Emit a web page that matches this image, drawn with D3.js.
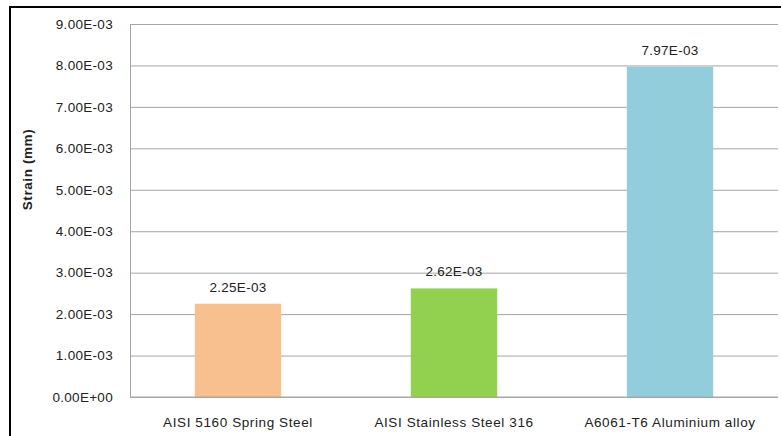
<!DOCTYPE html>
<html>
<head>
<meta charset="utf-8">
<script src="https://cdn.jsdelivr.net/npm/d3@7"></script>
<style>
  html, body { margin: 0; padding: 0; background: #fff; }
  svg { display: block; }
  text { font-family: "Liberation Sans", "DejaVu Sans", sans-serif; fill: #222; }
</style>
</head>
<body>
<svg id="chart" width="781" height="436"></svg>
<script>
// Strain per material
const materials = ["AISI 5160 Spring Steel", "AISI Stainless Steel 316", "A6061-T6 Aluminium alloy"];
const strain = [0.00225, 0.00262, 0.00797];
const barColors = ["#F9C08F", "#92D050", "#92CDDC"];
const yTicks = [0, 0.001, 0.002, 0.003, 0.004, 0.005, 0.006, 0.007, 0.008, 0.009];

const svg = d3.select("#chart");
const W = 781, H = 436;
const plot = { left: 130, right: 778, top: 24, bottom: 397 };

// Outer chart frame (extends past the window on right and bottom)
svg.append("rect")
  .attr("x", 10).attr("y", 7)
  .attr("width", W + 10).attr("height", H + 10)
  .attr("fill", "#fff").attr("stroke", "#000").attr("stroke-width", 2);

const y = d3.scaleLinear().domain([0, 0.009]).range([plot.bottom, plot.top]);
const x = d3.scaleBand().domain(materials).range([plot.left, plot.right])
  .paddingInner(0.6).paddingOuter(0.3);

// Gridlines and axis labels
const fmt = v => v === 0 ? "0.00E+00" : (v / 0.001).toFixed(2) + "E-03";
const yAxis = d3.axisLeft(y).tickValues(yTicks).tickFormat(fmt)
  .tickSize(-(plot.right - plot.left)).tickPadding(17);
const gy = svg.append("g").attr("transform", `translate(${plot.left},0)`).call(yAxis);
gy.select(".domain").attr("stroke", "#a6a6a6");
gy.selectAll(".tick line").attr("stroke", "#a6a6a6");
gy.selectAll(".tick text")
  .attr("font-size", 13.5)
  .attr("font-family", "'Liberation Sans', sans-serif")
  .attr("letter-spacing", 0.3)
  .attr("fill", "#222");

// Bars
svg.append("g").selectAll("rect").data(strain).join("rect")
  .attr("x", (d, i) => x(materials[i]))
  .attr("y", d => y(d))
  .attr("width", x.bandwidth())
  .attr("height", d => plot.bottom - y(d))
  .attr("fill", (d, i) => barColors[i]);

// Baseline
svg.append("line")
  .attr("x1", plot.left).attr("x2", plot.right)
  .attr("y1", plot.bottom).attr("y2", plot.bottom)
  .attr("stroke", "#a6a6a6");

// Value labels
svg.append("g").selectAll("text").data(strain).join("text")
  .attr("x", (d, i) => x(materials[i]) + x.bandwidth() / 2)
  .attr("y", d => y(d) - 12)
  .attr("text-anchor", "middle")
  .attr("font-size", 13.5)
  .attr("letter-spacing", 0.3)
  .text(d => (d / 0.001).toFixed(2) + "E-03");

// Category labels
svg.append("g").selectAll("text").data(materials).join("text")
  .attr("x", d => x(d) + x.bandwidth() / 2)
  .attr("y", 427)
  .attr("text-anchor", "middle")
  .attr("font-size", 13.5)
  .attr("letter-spacing", 0.6)
  .text(d => d);

// Axis title
svg.append("text")
  .attr("transform", `translate(32,${(plot.top + plot.bottom) / 2 - 41}) rotate(-90)`)
  .attr("text-anchor", "middle")
  .attr("font-size", 13.5)
  .attr("font-weight", "bold")
  .attr("letter-spacing", 0.6)
  .attr("fill", "#000")
  .text("Strain (mm)");
</script>
</body>
</html>
